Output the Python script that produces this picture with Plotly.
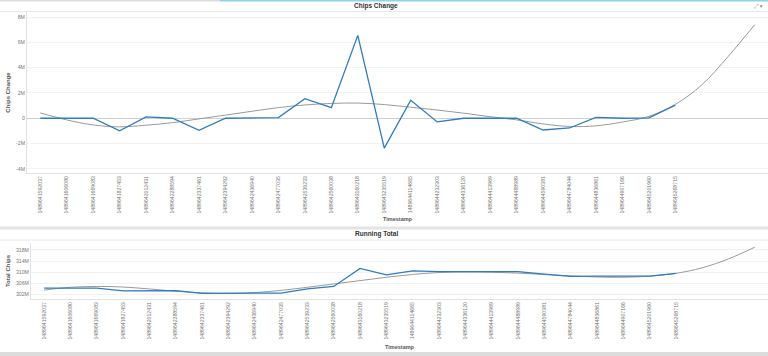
import plotly.graph_objects as go

W, H = 768, 356

timestamps = [
    "1489641592037", "1489641606080", "1489641669083", "1489641827453",
    "1489642012431", "1489642288594", "1489642337461", "1489642394292",
    "1489642436940", "1489642477035", "1489642539233", "1489642560038",
    "1489643160218", "1489643235519", "1489644114665", "1489644232303",
    "1489644336120", "1489644413969", "1489644488989", "1489644590381",
    "1489644784044", "1489644836861", "1489644907166", "1489645201960",
    "1489645268715",
]

chips_change = [
    0, 0, 0, -1000000, 100000, 0, -950000, 0, 0, 50000,
    1550000, 840000, 6550000, -2360000, 1430000, -290000, 0, 0, 0,
    -930000, -770000, 70000, 0, 30000, 1030000,
]

# polynomial trend as drawn (incl. 3 forecast steps)
chips_trend = [
    420000, -130000, -530000, -680000, -550000, -350000, -50000, 250000,
    550000, 840000, 1050000, 1170000, 1200000, 1080000, 870000, 650000,
    400000, 120000, -130000, -450000, -650000, -600000, -300000, 150000,
    1100000, 2640000, 4900000, 7400000,
]

running_total = [
    304300000, 304300000, 304300000, 303300000, 303400000, 303400000,
    302450000, 302450000, 302450000, 302500000, 304050000, 304900000,
    311400000, 309050000, 310500000, 310200000, 310200000, 310200000,
    310200000, 309300000, 308500000, 308600000, 308600000, 308600000,
    309600000,
]

running_trend = [
    303600000, 304600000, 304900000, 304700000, 304000000, 303200000,
    302600000, 302400000, 302700000, 303500000, 304600000, 305800000,
    307000000, 308200000, 309200000, 309900000, 310100000, 310000000,
    309700000, 309200000, 308700000, 308300000, 308200000, 308600000,
    309600000, 311600000, 314800000, 319000000,
]

y_ticks_top = [-4000000, -2000000, 0, 2000000, 4000000, 6000000, 8000000]
y_text_top = ["-4M", "-2M", "0", "2M", "4M", "6M", "8M"]
y_ticks_bot = [302000000, 306000000, 310000000, 314000000, 318000000]
y_text_bot = ["302M", "306M", "310M", "314M", "318M"]

idx = list(range(len(chips_change)))
tidx = list(range(len(chips_trend)))

BLUE = "#2f7bbf"
GRAY = "#9a9a9a"
FONT = "Liberation Sans"

fig = go.Figure()
fig.add_trace(go.Scatter(x=tidx, y=chips_trend, mode="lines", line=dict(color=GRAY, width=1, shape="spline"),
                         xaxis="x", yaxis="y", hoverinfo="skip"))
fig.add_trace(go.Scatter(x=idx, y=chips_change, mode="lines", line=dict(color=BLUE, width=1.3),
                         xaxis="x", yaxis="y"))
fig.add_trace(go.Scatter(x=tidx, y=running_trend, mode="lines", line=dict(color=GRAY, width=1, shape="spline"),
                         xaxis="x2", yaxis="y2", hoverinfo="skip"))
fig.add_trace(go.Scatter(x=idx, y=running_total, mode="lines", line=dict(color=BLUE, width=1.3),
                         xaxis="x2", yaxis="y2"))

def px_x(p):
    return p / W

def px_y(p):
    return 1 - p / H

tickfont = dict(family=FONT, size=5.2, color="#777")
xcommon = dict(
    tickmode="array", tickvals=idx, ticktext=timestamps, tickangle=-90,
    tickfont=tickfont, range=[-0.5, 27.5], showgrid=False, zeroline=False,
    showline=True, linecolor="#e2e2e2", linewidth=1, ticks="", fixedrange=True,
)
ycommon = dict(
    tickfont=tickfont, showgrid=True, gridcolor="#f2f2f2", gridwidth=1,
    showline=True, linecolor="#e2e2e2", linewidth=1, ticks="", tickmode="array",
)

fig.update_layout(
    width=W, height=H, margin=dict(l=0, r=0, t=0, b=0),
    paper_bgcolor="white", plot_bgcolor="white", showlegend=False,
    font=dict(family=FONT, color="#444"),
    xaxis=dict(xcommon, domain=[px_x(27), px_x(768)], anchor="y",
               title=dict(text="<b>Timestamp</b>", font=dict(family=FONT, size=5.5, color="#555"), standoff=4)),
    yaxis=dict(ycommon, domain=[px_y(173), px_y(12)], anchor="x", range=[-4330000, 8400000],
               tickvals=y_ticks_top, ticktext=y_text_top,
               zeroline=True, zerolinecolor="#cfcfcf", zerolinewidth=1,
               title=dict(text="<b>Chips Change</b>", font=dict(family=FONT, size=6, color="#555"), standoff=4)),
    xaxis2=dict(xcommon, domain=[px_x(31), px_x(768)], anchor="y2",
                title=dict(text="<b>Timestamp</b>", font=dict(family=FONT, size=5.5, color="#555"), standoff=6)),
    yaxis2=dict(ycommon, domain=[px_y(299), px_y(243)], anchor="x2", range=[300400000, 320500000],
                tickvals=y_ticks_bot, ticktext=y_text_bot, zeroline=False,
                title=dict(text="<b>Total Chips</b>", font=dict(family=FONT, size=6, color="#555"), standoff=4)),
)

shapes = [
    dict(type="rect", xref="paper", yref="paper", x0=0, x1=px_x(220), y0=px_y(1.5), y1=1,
         fillcolor="#dddddd", line=dict(width=0)),
    dict(type="rect", xref="paper", yref="paper", x0=px_x(220), x1=1, y0=px_y(1.5), y1=1,
         fillcolor="#8fd3ee", line=dict(width=0)),
    dict(type="line", xref="paper", yref="paper", x0=0, x1=1, y0=px_y(11.5), y1=px_y(11.5),
         line=dict(color="#e8e8e8", width=1)),
    dict(type="rect", xref="paper", yref="paper", x0=0, x1=1, y0=px_y(229.5), y1=px_y(226.5),
         fillcolor="#e4e4e4", line=dict(width=0)),
    dict(type="line", xref="paper", yref="paper", x0=0, x1=1, y0=px_y(240), y1=px_y(240),
         line=dict(color="#e8e8e8", width=1)),
    dict(type="rect", xref="paper", yref="paper", x0=0, x1=1, y0=0, y1=px_y(352),
         fillcolor="#dcdcdc", line=dict(width=0)),
]
fig.update_layout(shapes=shapes)

annotations = [
    dict(text="<b>Chips Change</b>", x=px_x(376), y=px_y(6.5), xref="paper", yref="paper",
         showarrow=False, font=dict(family=FONT, size=6.5, color="#333"), xanchor="center", yanchor="middle"),
    dict(text="<b>Running Total</b>", x=px_x(376), y=px_y(234), xref="paper", yref="paper",
         showarrow=False, font=dict(family=FONT, size=6.5, color="#333"), xanchor="center", yanchor="middle"),
    dict(text="⤢ ▾", x=px_x(758), y=px_y(6.5), xref="paper", yref="paper",
         showarrow=False, font=dict(family="DejaVu Sans", size=5.5, color="#888"), xanchor="center", yanchor="middle"),
]
fig.update_layout(annotations=annotations)

fig.write_html(
    "out.html",
    config=dict(displayModeBar=False),
    post_script="document.body.style.margin='0';document.body.style.overflow='hidden';",
)
